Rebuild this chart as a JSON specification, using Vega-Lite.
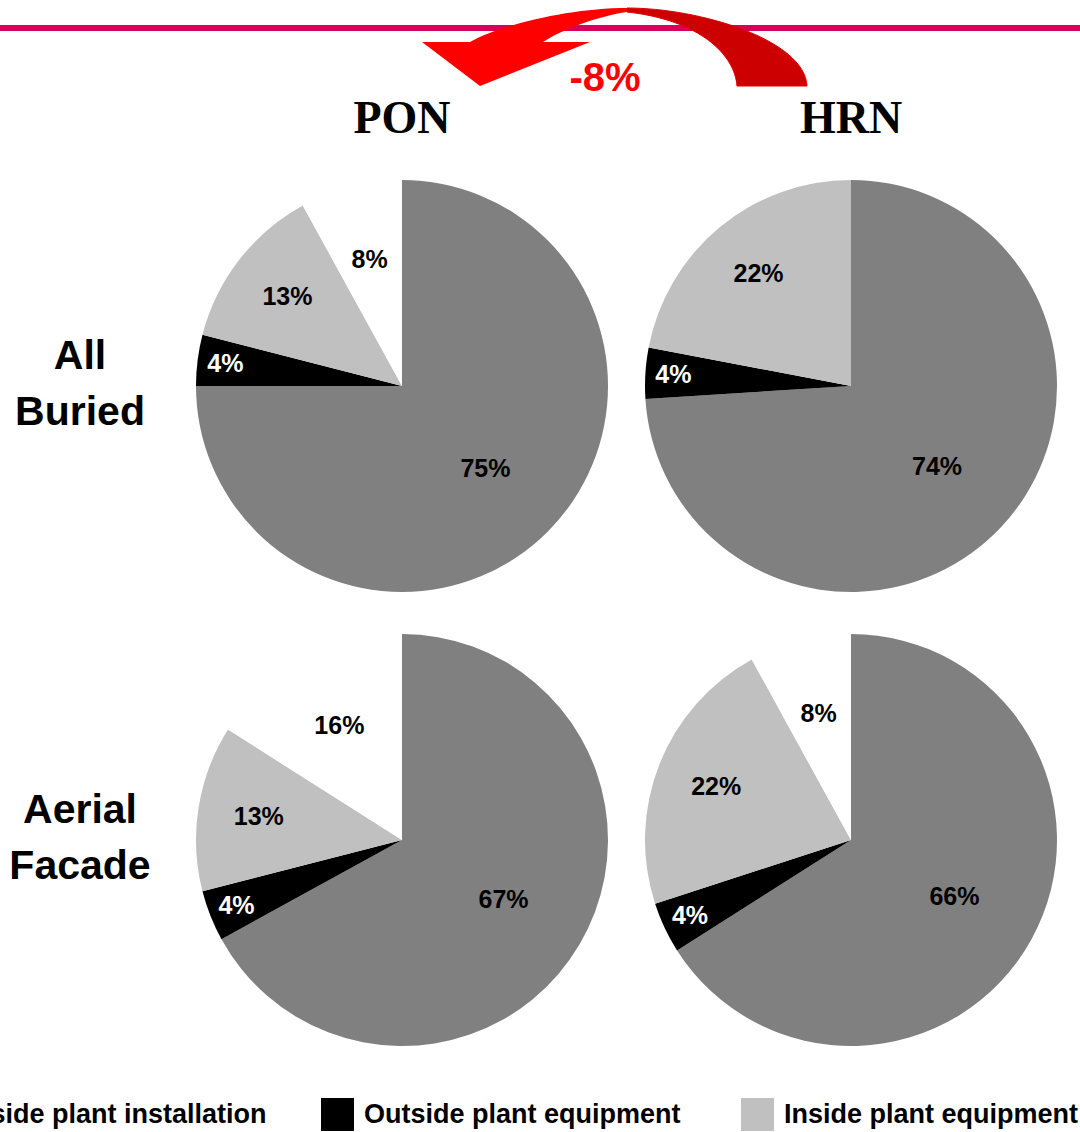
{
  "$schema": "https://vega.github.io/schema/vega-lite/v6.json",
  "width": 1080,
  "height": 1132,
  "autosize": "none",
  "padding": 0,
  "background": "white",
  "config": {"view": {"stroke": null}},
  "datasets": {
    "pies": [
      {"network": "PON", "scenario": "All Buried", "category": "Outside plant installation", "order": 1, "value": 0.75},
      {"network": "PON", "scenario": "All Buried", "category": "Outside plant equipment", "order": 2, "value": 0.04},
      {"network": "PON", "scenario": "All Buried", "category": "Inside plant equipment", "order": 3, "value": 0.13},
      {"network": "PON", "scenario": "All Buried", "category": "Inside plant installation", "order": 4, "value": 0.08},
      {"network": "HRN", "scenario": "All Buried", "category": "Outside plant installation", "order": 1, "value": 0.74},
      {"network": "HRN", "scenario": "All Buried", "category": "Outside plant equipment", "order": 2, "value": 0.04},
      {"network": "HRN", "scenario": "All Buried", "category": "Inside plant equipment", "order": 3, "value": 0.22},
      {"network": "PON", "scenario": "Aerial Facade", "category": "Outside plant installation", "order": 1, "value": 0.67},
      {"network": "PON", "scenario": "Aerial Facade", "category": "Outside plant equipment", "order": 2, "value": 0.04},
      {"network": "PON", "scenario": "Aerial Facade", "category": "Inside plant equipment", "order": 3, "value": 0.13},
      {"network": "PON", "scenario": "Aerial Facade", "category": "Inside plant installation", "order": 4, "value": 0.16},
      {"network": "HRN", "scenario": "Aerial Facade", "category": "Outside plant installation", "order": 1, "value": 0.66},
      {"network": "HRN", "scenario": "Aerial Facade", "category": "Outside plant equipment", "order": 2, "value": 0.04},
      {"network": "HRN", "scenario": "Aerial Facade", "category": "Inside plant equipment", "order": 3, "value": 0.22},
      {"network": "HRN", "scenario": "Aerial Facade", "category": "Inside plant installation", "order": 4, "value": 0.08}
    ],
    "networks": [{"network": "PON"}, {"network": "HRN"}],
    "scenarios": [{"scenario": "All Buried"}, {"scenario": "Aerial Facade"}],
    "change": [{"label": "-8%"}]
  },
  "layer": [
    {
      "data": {"name": "change"},
      "mark": {"type": "rule", "stroke": "#D6005A", "strokeWidth": 6},
      "encoding": {
        "x": {"value": 0},
        "x2": {"value": 1080},
        "y": {"value": 28}
      }
    },
    {
      "data": {"name": "change"},
      "mark": {
        "type": "point",
        "shape": "M 0.0649 -0.2026 C 0.4442 -0.2026 0.9896 -0.0364 1 0.2026 L 0.6364 0.2026 C 0.626 0.0416 0.4442 -0.1403 0.0649 -0.1818 Z",
        "size": 148225, "filled": true, "fill": "#CC0000", "stroke": "#E00000", "strokeWidth": 1, "opacity": 1,
        "x": 614.5, "y": 47
      },
      "encoding": {}
    },
    {
      "data": {"name": "change"},
      "mark": {
        "type": "point",
        "shape": "M -1 -0.026 L -0.7506 -0.026 C -0.5948 -0.1143 -0.2312 -0.2026 0.0649 -0.2026 L 0.0649 -0.1818 C -0.0753 -0.161 -0.2571 -0.0987 -0.3714 -0.026 L -0.1273 -0.026 L -0.6987 0.2026 Z",
        "size": 148225, "filled": true, "fill": "#FF0000", "strokeWidth": 0, "opacity": 1,
        "x": 614.5, "y": 47
      },
      "encoding": {}
    },
    {
      "data": {"name": "change"},
      "mark": {"type": "text", "x": 605, "y": 91, "align": "center", "baseline": "alphabetic", "font": "Liberation Sans", "fontSize": 40, "fontWeight": "bold", "fill": "#FF0000"},
      "encoding": {"text": {"field": "label"}}
    },
    {
      "data": {"name": "networks"},
      "mark": {"type": "text", "y": 133, "align": "center", "baseline": "alphabetic", "font": "Liberation Serif", "fontSize": 46, "fontWeight": "bold", "fill": "#000000"},
      "encoding": {
        "x": {"field": "network", "type": "nominal", "axis": null, "scale": {"type": "point", "domain": ["PON", "HRN"], "range": [402, 851], "padding": 0}},
        "text": {"field": "network"}
      }
    },
    {
      "data": {"name": "scenarios"},
      "mark": {"type": "text", "x": 80, "dy": -17, "align": "center", "baseline": "alphabetic", "lineBreak": " ", "lineHeight": 56, "font": "Liberation Sans", "fontSize": 41, "fontWeight": "bold", "fill": "#000000"},
      "encoding": {
        "y": {"field": "scenario", "type": "nominal", "axis": null, "scale": {"type": "point", "domain": ["All Buried", "Aerial Facade"], "range": [386, 840], "padding": 0}},
        "text": {"field": "scenario"}
      }
    },
    {
      "data": {"name": "pies"},
      "transform": [
        {"stack": "value", "groupby": ["network", "scenario"], "sort": [{"field": "order", "order": "ascending"}], "as": ["v0", "v1"]}
      ],
      "layer": [
        {
          "mark": {"type": "arc", "outerRadius": 206, "strokeWidth": 0},
          "encoding": {
            "x": {"field": "network", "type": "nominal", "axis": null, "scale": {"type": "point", "domain": ["PON", "HRN"], "range": [402, 851], "padding": 0}},
            "y": {"field": "scenario", "type": "nominal", "axis": null, "scale": {"type": "point", "domain": ["All Buried", "Aerial Facade"], "range": [386, 840], "padding": 0}},
            "theta": {"field": "v0", "type": "quantitative", "stack": null, "scale": {"domain": [0, 1]}},
            "theta2": {"field": "v1"},
            "color": {
              "field": "category", "type": "nominal",
              "scale": {"domain": ["Outside plant installation", "Outside plant equipment", "Inside plant equipment", "Inside plant installation"], "range": ["#808080", "#000000", "#C0C0C0", "#FFFFFF"]},
              "legend": {
                "title": null, "orient": "none", "legendX": -99, "legendY": 1098,
                "direction": "horizontal", "columns": 4, "gridAlign": "all", "columnPadding": 54,
                "symbolType": "square", "symbolSize": 1089, "symbolStrokeWidth": 0, "symbolOffset": 0,
                "labelFont": "Liberation Sans", "labelFontSize": 27, "labelFontWeight": "bold", "labelColor": "#000000",
                "labelOffset": 10, "labelLimit": 0, "padding": 0, "offset": 0
              }
            }
          }
        },
        {
          "mark": {
            "type": "text", "align": "center", "baseline": "middle", "font": "Liberation Sans", "fontSize": 25, "fontWeight": "bold",
            "theta": {"expr": "PI * (datum.v0 + datum.v1)"},
            "radius": {"expr": "datum.category === 'Outside plant equipment' ? 178 : datum.category === 'Outside plant installation' ? 118 : datum.category === 'Inside plant equipment' ? 145 : 130"}
          },
          "encoding": {
            "x": {"field": "network", "type": "nominal", "axis": null, "scale": {"type": "point", "domain": ["PON", "HRN"], "range": [402, 851], "padding": 0}},
            "y": {"field": "scenario", "type": "nominal", "axis": null, "scale": {"type": "point", "domain": ["All Buried", "Aerial Facade"], "range": [386, 840], "padding": 0}},
            "text": {"field": "value", "type": "quantitative", "format": ".0%"},
            "color": {
              "field": "category", "type": "nominal", "legend": null,
              "scale": {"domain": ["Outside plant installation", "Outside plant equipment", "Inside plant equipment", "Inside plant installation"], "range": ["#000000", "#FFFFFF", "#000000", "#000000"]}
            }
          }
        }
      ],
      "resolve": {"scale": {"color": "independent"}, "legend": {"color": "independent"}}
    }
  ]
}
